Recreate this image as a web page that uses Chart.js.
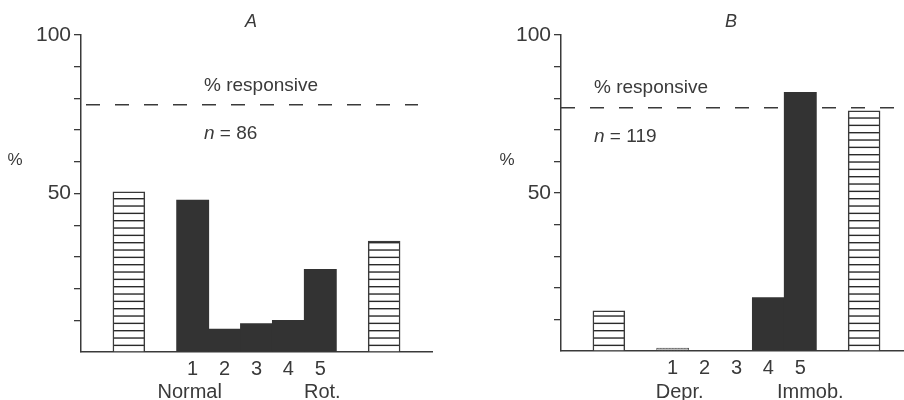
<!DOCTYPE html>
<html><head><meta charset="utf-8">
<script src="https://cdn.jsdelivr.net/npm/chart.js@4/dist/chart.umd.min.js"></script>
<style>
html,body{margin:0;padding:0;background:#fff;overflow:hidden;width:904px;height:400px;}
#wrapA{position:absolute;left:0;top:0;width:450px;height:400px;}
#wrapB{position:absolute;left:450px;top:0;width:454px;height:400px;}
</style></head><body>
<div id="wrapA"><canvas id="chartA"></canvas></div>
<div id="wrapB"><canvas id="chartB"></canvas></div>
<script>
// ---- Panel A data ----
const categoriesA = ['1', '2', '3', '4', '5'];
const groupLabelsA = ['Normal', 'Rot.'];
const hatchedA = [50.5, 35];          // control bars (before, after)
const solidA = [48, 7.3, 9.1, 10.1, 26.2];
const responsiveA = 78;
const countA = 86;

// ---- Panel B data ----
const categoriesB = ['1', '2', '3', '4', '5'];
const groupLabelsB = ['Depr.', 'Immob.'];
const hatchedB = [12.7, 76];
const solidB = [1, 0, 0, 17, 82];
const responsiveB = 77;
const countB = 119;

const yLabelled = [50, 100];

const INK = '#3a3a3a';
const FONT = '"Liberation Sans", Arial, Helvetica, sans-serif';

function hatchPattern(color) {
  const c = document.createElement('canvas');
  c.width = 4; c.height = 22;
  const g = c.getContext('2d');
  g.fillStyle = '#fff'; g.fillRect(0, 0, 4, 22);
  g.fillStyle = color;
  [0, 22 / 3, 44 / 3].forEach(y => g.fillRect(0, y, 4, 1.4));
  return g.createPattern(c, 'repeat');
}
function stipplePattern() {
  const c = document.createElement('canvas');
  c.width = 3; c.height = 2;
  const g = c.getContext('2d');
  g.fillStyle = '#bbb'; g.fillRect(0, 0, 3, 2);
  g.fillStyle = '#555'; g.fillRect(0, 0, 1.5, 1);
  return g.createPattern(c, 'repeat');
}

const panelPlugin = {
  id: 'panelText',
  beforeDatasetsDraw(chart, args, o) {
    const {ctx, chartArea: a, scales: {y}} = chart;
    const yy = y.getPixelForValue(o.responsive);
    ctx.save();
    ctx.strokeStyle = INK; ctx.lineWidth = 1.5; ctx.setLineDash([14, 15]);
    ctx.beginPath();
    ctx.moveTo(a.left + o.dashStart, yy);
    ctx.lineTo(a.right - o.dashEnd, yy);
    ctx.stroke();
    ctx.restore();
  },
  afterDraw(chart, args, o) {
    const {ctx, chartArea: a, scales: {x}} = chart;
    ctx.save();
    ctx.fillStyle = INK;
    ctx.textBaseline = 'middle';
    ctx.textAlign = 'center';
    ctx.font = 'italic 18px ' + FONT;
    ctx.fillText(o.letter, a.left + 170, 22);
    ctx.textAlign = 'left';
    ctx.font = '19px ' + FONT;
    ctx.fillText('% responsive', a.left + o.textX, o.respY);
    ctx.font = 'italic 19px ' + FONT;
    ctx.fillText('n', a.left + o.textX, o.nY);
    const w = ctx.measureText('n').width;
    ctx.font = '19px ' + FONT;
    ctx.fillText(' = ' + o.count, a.left + o.textX + w, o.nY);
    ctx.textAlign = 'center';
    ctx.font = '17px ' + FONT;
    ctx.fillText('%', a.left - o.pctDX, 160);
    ctx.font = '20px ' + FONT;
    ctx.textBaseline = 'alphabetic';
    ctx.fillText(o.groups[0], x.getPixelForValue(2) + o.groupDX[0], 398);
    ctx.fillText(o.groups[1], x.getPixelForValue(o.nCat + 1) + o.groupDX[1], 398);
    ctx.restore();
  }
};

function makePanel(id, cats, groups, hatched, solid, resp, count, opts) {
  const hatchData = [{x: 0, y: hatched[0]}, {x: cats.length + 3, y: hatched[1]}];
  const solidData = cats.map((c, i) => ({x: i + 2, y: solid[i]}));
  const hp = hatchPattern('#2a2a2a');
  const sp = stipplePattern();
  return new Chart(document.getElementById(id), {
    type: 'bar',
    data: {
      datasets: [
        {
          data: hatchData, backgroundColor: hp, borderColor: INK, borderWidth: 1.5,
          borderSkipped: 'bottom', grouped: false, barPercentage: 1, categoryPercentage: 1
        },
        {
          data: solidData, grouped: false, barPercentage: 1.03, categoryPercentage: 1,
          backgroundColor: c => (c.raw && c.raw.y < 2) ? sp : '#333',
          borderColor: '#555',
          borderWidth: c => (c.raw && c.raw.y < 2 && c.raw.y > 0) ? 1 : 0,
          borderSkipped: 'bottom'
        }
      ]
    },
    options: {
      responsive: true, maintainAspectRatio: false, animation: false, devicePixelRatio: 1,
      layout: {padding: {top: 35, right: opts.padRight, left: 0, bottom: 0}},
      plugins: {
        legend: {display: false}, tooltip: {enabled: false},
        panelText: {
          letter: opts.letter, responsive: resp, count: count, groups: groups, nCat: cats.length,
          textX: opts.textX, respY: opts.respY, nY: opts.nY, pctDX: opts.pctDX,
          dashStart: opts.dashStart, dashEnd: opts.dashEnd, groupDX: opts.groupDX
        }
      },
      scales: {
        x: {
          type: 'linear', min: -1.5, max: opts.xMax, offset: false,
          afterFit: s => { s.height = opts.xAxisH; },
          afterBuildTicks: s => { s.ticks = cats.map((c, i) => ({value: i + 2})); },
          ticks: {
            autoSkip: false, maxRotation: 0, padding: 5, color: INK,
            font: {family: FONT, size: 20},
            callback: v => cats[v - 2]
          },
          grid: {drawOnChartArea: false, drawTicks: false},
          border: {display: true, color: INK, width: 1.5}
        },
        y: {
          min: 0, max: 100,
          afterFit: s => { s.width = opts.yAxisW; },
          ticks: {
            stepSize: 10, autoSkip: false, padding: 3, color: INK,
            font: {family: FONT, size: 21},
            callback: v => yLabelled.includes(v) ? String(v) : ''
          },
          grid: {
            drawOnChartArea: false, drawTicks: true, tickLength: 7, lineWidth: 1.3,
            color: c => (c.tick && c.tick.value === 0) ? 'rgba(0,0,0,0)' : INK
          },
          border: {display: true, color: INK, width: 1.5}
        }
      }
    },
    plugins: [panelPlugin]
  });
}

makePanel('chartA', categoriesA, groupLabelsA, hatchedA, solidA, responsiveA, countA, {
  letter: 'A', padRight: 18, xMax: 9.5, yAxisW: 81, xAxisH: 48,
  textX: 123, respY: 86, nY: 134, pctDX: 66, dashStart: 5, dashEnd: 14, groupDX: [-3, 2]
});
makePanel('chartB', categoriesB, groupLabelsB, hatchedB, solidB, responsiveB, countB, {
  letter: 'B', padRight: 0, xMax: 9.25, yAxisW: 111, xAxisH: 49,
  textX: 33, respY: 88, nY: 137, pctDX: 54, dashStart: 0, dashEnd: 0, groupDX: [7, 10]
});
</script>
</body></html>
